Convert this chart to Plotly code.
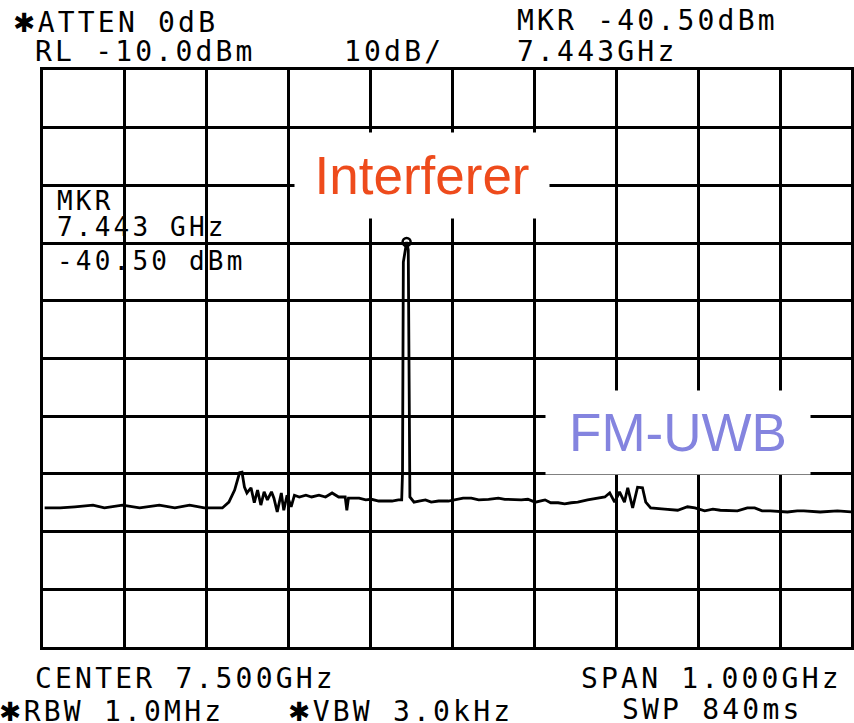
import plotly.graph_objects as go

# spectrum analyzer trace, frequency in GHz, level in dBm
freq_ghz = [
    7.002, 7.021, 7.039, 7.061, 7.075, 7.097, 7.118, 7.142, 7.161, 7.179,
    7.197, 7.219, 7.227, 7.234, 7.240, 7.243, 7.246, 7.249, 7.254, 7.258,
    7.262, 7.266, 7.270, 7.274, 7.279, 7.282, 7.286, 7.291, 7.294, 7.298,
    7.303, 7.307, 7.313, 7.321, 7.328, 7.337, 7.345, 7.353, 7.361, 7.369,
    7.371, 7.373, 7.386, 7.394, 7.401, 7.410, 7.418, 7.426, 7.434, 7.438,
    7.439, 7.440, 7.444, 7.446, 7.448, 7.453, 7.459, 7.467, 7.474, 7.483,
    7.495, 7.504, 7.513, 7.523, 7.532, 7.544, 7.556, 7.564, 7.574, 7.584,
    7.592, 7.601, 7.613, 7.620, 7.629, 7.637, 7.645, 7.653, 7.665, 7.678,
    7.686, 7.692, 7.698, 7.704, 7.710, 7.714, 7.720, 7.726, 7.732, 7.736,
    7.742, 7.759, 7.775, 7.787, 7.796, 7.808, 7.818, 7.827, 7.848, 7.860,
    7.869, 7.878, 7.888, 7.909, 7.921, 7.929, 7.949, 7.970, 7.987,
]
level_dbm = [
    -85.9, -85.9, -85.7, -85.4, -85.9, -85.4, -85.9, -85.4, -85.9, -85.4,
    -85.9, -85.9, -84.9, -82.8, -79.8, -79.7, -82.3, -83.3, -82.4, -85.0,
    -82.8, -85.4, -83.1, -84.5, -83.1, -84.2, -86.6, -83.3, -86.3, -83.7,
    -85.7, -83.7, -84.0, -83.7, -84.0, -83.7, -84.0, -83.3, -84.0, -84.0,
    -86.3, -84.2, -84.2, -84.5, -84.4, -84.7, -84.7, -84.7, -84.5, -84.5,
    -79.8, -43.3, -39.8, -41.2, -84.0, -84.9, -84.7, -84.5, -84.9, -84.7,
    -84.7, -84.5, -84.2, -84.2, -84.5, -84.4, -84.2, -84.4, -84.5, -84.5,
    -84.4, -84.9, -84.5, -85.0, -85.0, -85.2, -85.0, -84.9, -84.5, -84.2,
    -84.0, -83.3, -84.9, -83.1, -84.9, -82.4, -85.9, -82.3, -82.4, -84.9,
    -85.9, -86.1, -86.3, -85.7, -85.9, -86.4, -86.1, -86.3, -86.4, -85.9,
    -85.9, -86.4, -86.4, -86.6, -86.4, -86.4, -86.6, -86.4, -86.6,
]
marker_ghz = [7.444]
marker_dbm = [-39.8]

header_left = ["✱ATTEN 0dB", "RL -10.0dBm"]
header_mid = ["10dB/"]
header_right = ["MKR -40.50dBm", "7.443GHz"]
footer_left = ["CENTER 7.500GHz", "✱RBW 1.0MHz"]
footer_mid = ["✱VBW 3.0kHz"]
footer_right = ["SPAN 1.000GHz", "SWP 840ms"]
mkr_box = ["MKR", "7.443 GHz", "-40.50 dBm"]

W, H = 854, 723
L, T, B = 43, 70, 76
PW, PH = W - L, H - T - B

MONO = "DejaVu Sans Mono"


def px(x, y):
    return (x - L) / PW, (H - B - y) / PH


def spaced(s):
    s = s.replace("✱", '<span style="font-size:34px">✱</span>')
    return f'<span style="letter-spacing:3.2px">{s}</span>'


fig = go.Figure()
fig.add_trace(go.Scatter(x=freq_ghz, y=level_dbm, mode="lines",
                         line=dict(color="black", width=2.8)))
fig.add_trace(go.Scatter(x=marker_ghz, y=marker_dbm, mode="markers",
                         marker=dict(symbol="circle-open", size=8, color="black",
                                     line=dict(width=2.5))))

annotations = []


def text_at(s, x, y, size=28):
    xp, yp = px(x, y)
    annotations.append(dict(text=spaced(s), x=xp, y=yp, xref="paper", yref="paper",
                            xanchor="left", yanchor="middle", showarrow=False,
                            font=dict(family=MONO, size=size, color="black")))


text_at(header_left[0], 12, 20)
text_at(header_left[1], 33, 51)
text_at(header_mid[0], 343, 51)
text_at(header_right[0], 517, 20)
text_at(header_right[1], 517, 51)
text_at(footer_left[0], 33, 678)
text_at(footer_left[1], -2, 709)
text_at(footer_mid[0], 288, 709)
text_at(footer_right[0], 581, 678)
text_at(footer_right[1], 622, 709)
text_at(mkr_box[0], 55, 201, 26)
text_at(mkr_box[1], 55, 227, 26)
text_at(mkr_box[2], 55, 261, 26)

# label boxes that blank out the grid behind them
for label, color, cx, cy, bw, bh in [
    ("Interferer", "#EE4B1C", 423, 175.5, 254, 85),
    ("FM-UWB", "#8484DF", 680, 432.5, 264, 83),
]:
    xp, yp = px(cx, cy)
    annotations.append(dict(text=label, x=xp, y=yp, xref="paper", yref="paper",
                            xanchor="center", yanchor="middle", showarrow=False,
                            width=bw, height=bh, bgcolor="white", borderpad=0,
                            font=dict(family="Liberation Sans", size=53, color=color)))

fig.update_layout(
    width=W, height=H,
    margin=dict(l=L, r=0, t=T, b=B),
    paper_bgcolor="white", plot_bgcolor="white",
    showlegend=False,
    annotations=annotations,
)
fig.update_xaxes(range=[7.0, 7.0 + PW / 822], tick0=7.0, dtick=0.1,
                 showgrid=True, gridcolor="black", gridwidth=2.6,
                 showticklabels=False, ticks="", zeroline=False,
                 showline=True, linecolor="black", linewidth=3, mirror=True)
fig.update_yaxes(range=[-110, -10], tick0=-110, dtick=10,
                 showgrid=True, gridcolor="black", gridwidth=2.6,
                 showticklabels=False, ticks="", zeroline=False,
                 showline=True, linecolor="black", linewidth=3, mirror=True)

fig.write_html("out.html", config={"displayModeBar": False},
               post_script="document.body.style.margin='0';")
